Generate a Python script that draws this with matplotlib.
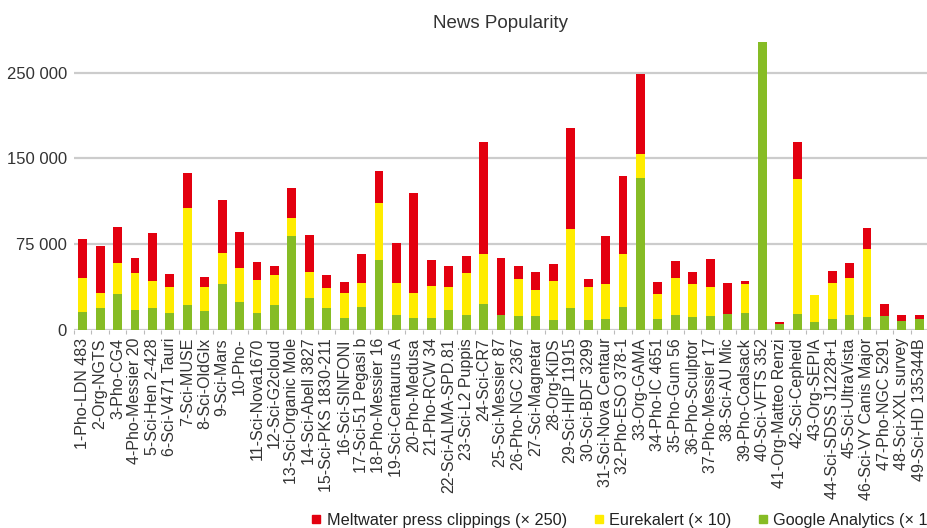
import matplotlib
matplotlib.use("Agg")
import matplotlib.pyplot as plt
from matplotlib.lines import Line2D
import numpy as np

plt.rcParams['font.family'] = ['Liberation Sans', 'DejaVu Sans']

labels = [
    "1-Pho-LDN 483", "2-Org-NGTS", "3-Pho-CG4", "4-Pho-Messier 20", "5-Sci-Hen 2-428",
    "6-Sci-V471 Tauri", "7-Sci-MUSE", "8-Sci-OldGlx", "9-Sci-Mars", "10-Pho-",
    "11-Sci-Nova1670", "12-Sci-G2cloud", "13-Sci-Organic Mole", "14-Sci-Abell 3827",
    "15-Sci-PKS 1830-211", "16-Sci-SINFONI", "17-Sci-51 Pegasi b", "18-Pho-Messier 16",
    "19-Sci-Centaurus A", "20-Pho-Medusa", "21-Pho-RCW 34", "22-Sci-ALMA-SPD.81",
    "23-Sci-L2 Puppis", "24-Sci-CR7", "25-Sci-Messier 87", "26-Pho-NGC 2367",
    "27-Sci-Magnetar", "28-Org-KiDS", "29-Sci-HIP 11915", "30-Sci-BDF 3299",
    "31-Sci-Nova Centaur", "32-Pho-ESO 378-1", "33-Org-GAMA", "34-Pho-IC 4651",
    "35-Pho-Gum 56", "36-Pho-Sculptor", "37-Pho-Messier 17", "38-Sci-AU Mic",
    "39-Pho-Coalsack", "40-Sci-VFTS 352", "41-Org-Matteo Renzi", "42-Sci-Cepheid",
    "43-Org-SEPIA", "44-Sci-SDSS J1228+1", "45-Sci-UltraVista", "46-Sci-VY Canis Major",
    "47-Pho-NGC 5291", "48-Sci-XXL survey", "49-Sci-HD 135344B",
]

google = [15500, 19000, 31200, 17200, 19000, 14600, 21600, 16300, 40000, 24200,
          14600, 21600, 82000, 27700, 19000, 10200, 19800, 61000, 12800, 10200,
          10200, 17200, 12800, 22500, 12800, 12000, 12000, 8500, 19000, 8500,
          9300, 19800, 132800, 9300, 12800, 11100, 12000, 13700, 14600, 251800,
          5000, 13700, 6700, 9300, 12800, 11100, 12000, 7600, 9300]

eurekalert = [29800, 13100, 27100, 32400, 23600, 22800, 84900, 21000, 27100, 29800,
              28900, 26300, 15800, 22800, 17500, 21900, 21000, 49900, 28000, 21900,
              28000, 20100, 36800, 43800, 0, 32400, 22800, 34100, 69200, 28900,
              30600, 46400, 21000, 21900, 32400, 28900, 25400, 0, 25400, 0,
              0, 118200, 23600, 31500, 32400, 59500, 0, 0, 0]

meltwater = [34100, 41100, 31500, 13100, 42000, 11400, 30600, 8800, 46400, 31500,
             15800, 7900, 26300, 32400, 11400, 9600, 25400, 28000, 35000, 87500,
             22800, 18400, 14900, 98000, 49900, 11400, 15800, 14900, 88400, 7000,
             42000, 68300, 70000, 10500, 14900, 10500, 24500, 27100, 2600, 0,
             1750, 32400, 0, 10500, 13100, 18400, 10500, 5250, 3500]

tick_values = [0, 75000, 150000, 225000]
tick_labels = ["0", "75 000", "150 000", "250 000"]

series_names = ["Meltwater press clippings (× 250)", "Eurekalert (× 10)", "Google Analytics (× 1)"]
c_red, c_yellow, c_green = "#e3000f", "#ffec00", "#86bc25"

fig = plt.figure(figsize=(9.28, 5.28), dpi=100)
ax = fig.add_axes([74/928, (528-329.7)/528, 1 - 74/928, (329.7-42)/528])

x = np.arange(len(labels))
g = np.array(google, dtype=float)
e = np.array(eurekalert, dtype=float)
m = np.array(meltwater, dtype=float)
w = 0.515
ax.bar(x, g, width=w, color=c_green, linewidth=0, zorder=2)
ax.bar(x, e, width=w, bottom=g, color=c_yellow, linewidth=0, zorder=2)
ax.bar(x, m, width=w, bottom=g + e, color=c_red, linewidth=0, zorder=2)

ax.set_xlim(-0.487, len(labels) - 1 + 0.487)
ax.set_ylim(0, max(g + e + m))

ax.set_yticks(tick_values)
ax.set_yticklabels(tick_labels)
ax.yaxis.grid(True, color="#cccccc", linewidth=1.6, zorder=0)
ax.set_axisbelow(True)
ax.tick_params(axis="y", length=0, pad=5, labelsize=12, labelcolor="#333333")

ax.set_xticks(x)
ax.set_xticklabels(labels, rotation=90, ha="center", va="top")
ax.set_xticks(np.arange(len(labels) + 1) - 0.5, minor=True)
ax.tick_params(axis="x", which="major", length=0, pad=6, labelsize=11.5, labelcolor="#333333")
ax.tick_params(axis="x", which="minor", length=3, color="#bbbbbb", width=0.8)

for s in ax.spines.values():
    s.set_visible(False)

ax.set_title("News Popularity", fontsize=13.5, color="#333333", pad=10)

handles = [Line2D([], [], marker="s", linestyle="none", markersize=5.2, color=c)
           for c in (c_red, c_yellow, c_green)]
fig.legend(handles, series_names, loc="center left", bbox_to_anchor=(313/928, 8/528),
           ncol=3, frameon=False, fontsize=11.7, handlelength=0.43, handletextpad=0.43,
           columnspacing=1.72, borderpad=0, borderaxespad=0, labelcolor="#222222")

fig.savefig("out.png", dpi=100)
